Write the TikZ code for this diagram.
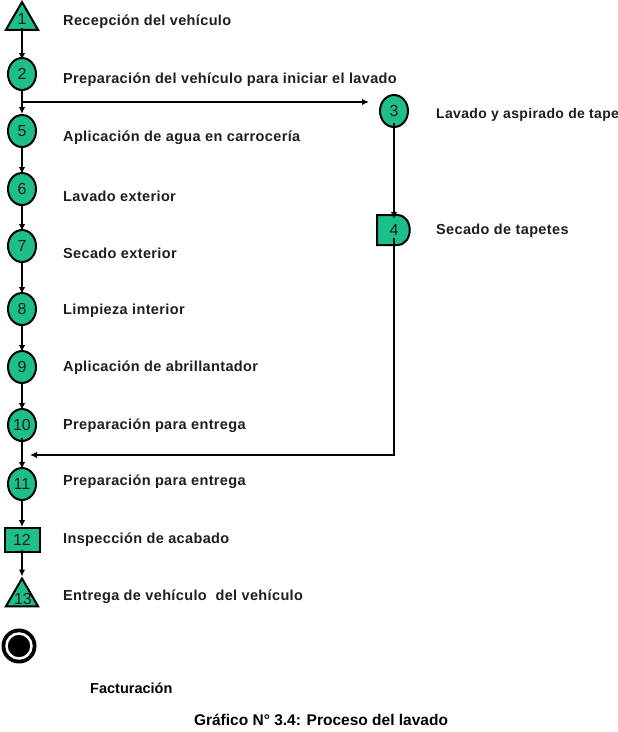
\documentclass[tikz,border=0pt]{standalone}
\usepackage{fontspec}
\setmainfont{Liberation Sans}
\newfontfamily\lblfont{Liberation Sans}[LetterSpace=2.5]
\usetikzlibrary{shapes.geometric,arrows.meta}
\definecolor{procgreen}{RGB}{28,190,140}
\definecolor{txtgray}{RGB}{30,30,30}
\tikzset{
  shp/.style={draw=black, line width=2pt, fill=procgreen, inner sep=0pt,
    font=\fontsize{16}{16}\selectfont, text=txtgray},
  proc/.style={shp, ellipse, minimum width=28pt, minimum height=32pt},
  tri/.style={shp, regular polygon, regular polygon sides=3, minimum size=37pt},
  insp/.style={shp, rectangle, minimum width=35pt, minimum height=24pt},
  numtxt/.style={inner sep=0pt, text=txtgray, font=\fontsize{16}{16}\selectfont},
  lbl/.style={anchor=west, inner sep=0pt, text=txtgray,
    font=\lblfont\bfseries\fontsize{14.5}{15}\selectfont},
  flow/.style={line width=2pt, -{Latex[length=7pt,width=6.5pt]}},
  plain/.style={line width=2pt},
}
\begin{document}
\begin{tikzpicture}[x=1pt,y=-1pt]
\useasboundingbox (0,0) rectangle (618,732);
% left column
\node[tri] (n1) at (22,20.5) {};
\node[numtxt] (n1t) at (22,19) {1};
\node[proc] (n2) at (22,74) {2};
\node[proc] (n5) at (22,131) {5};
\node[proc] (n6) at (22,189) {6};
\node[proc] (n7) at (22,246) {7};
\node[proc] (n8) at (22,309) {8};
\node[proc] (n9) at (22,367) {9};
\node[proc] (n10) at (22,425) {10};
\node[proc] (n11) at (22,484) {11};
\node[insp] (n12) at (22,540) {12};
\node[tri] (n13) at (22,597) {};
\node[numtxt] (n13t) at (23,599) {13};
\node[circle, fill=black, minimum size=35pt, inner sep=0pt] (fin) at (19,646) {};
\node[circle, fill=black, draw=white, line width=2.5pt, minimum size=25pt, inner sep=0pt] (fini) at (fin.center) {};
% right column
\node[proc] (n3) at (394,111) {3};
\draw[shp] (377,215) -- (397,215) .. controls (414,215) and (414,245) .. (397,245) -- (377,245) -- cycle;
\node[numtxt, minimum width=36pt, minimum height=30pt] (n4) at (394,230) {4};
% connectors
\draw[flow] ([yshift=3pt]n1.south) -- ([yshift=-3pt]n2.north);
\draw[flow] (n2.south) -- (n5.north);
\coordinate (br) at (22,102);
\coordinate (n3w) at (n3.west |- br);
\draw[flow] (br) -- ([xshift=-10pt]n3w);
\draw[flow] ([yshift=2pt]n5.south) -- ([yshift=-2pt]n6.north);
\draw[flow] ([yshift=2pt]n6.south) -- ([yshift=-2pt]n7.north);
\draw[flow] ([yshift=2pt]n7.south) -- ([yshift=-2pt]n8.north);
\draw[flow] ([yshift=2pt]n8.south) -- ([yshift=-2pt]n9.north);
\draw[flow] ([yshift=2pt]n9.south) -- ([yshift=-2pt]n10.north);
\draw[flow] ([yshift=4pt]n10.south) -- ([yshift=-2pt]n11.north);
\draw[flow] ([yshift=2pt]n11.south) -- (n12.north);
\draw[flow] ([yshift=3pt]n12.south) -- (n13.north);
\draw[flow] ([yshift=5pt]n3.south) -- ([yshift=-4pt]n4.north);
\coordinate (rc) at (n4.south |- 0,455);
\coordinate (ret) at (30,455);
\draw[plain] ([yshift=7pt]n4.south) -- (rc);
\draw[flow] ([xshift=1pt]rc) -- (ret);
% labels
\node[lbl] (l1) at (63,22) {Recepción del vehículo};
\node[lbl] (l2) at (63,80) {Preparación del vehículo para iniciar el lavado};
\node[lbl] (l5) at (63,138) {Aplicación de agua en carrocería};
\node[lbl] (l6) at (63,196) {Lavado exterior};
\node[lbl] (l7) at (63,253) {Secado exterior};
\node[lbl] (l8) at (63,311) {Limpieza interior};
\node[lbl] (l9) at (63,368) {Aplicación de abrillantador};
\node[lbl] (l10) at (63,426) {Preparación para entrega};
\node[lbl] (l11) at (63,482) {Preparación para entrega};
\node[lbl] (l12) at (63,540) {Inspección de acabado};
\node[lbl] (l13) at (63,597) {Entrega de vehículo\ \ del vehículo};
\node[lbl, font=\lblfont\bfseries\fontsize{14}{15}\selectfont] (l3) at (436,115) {Lavado y aspirado de tapetes};
\node[lbl] (l4) at (436,231) {Secado de tapetes};
\node[anchor=west, inner sep=0pt, font=\bfseries\fontsize{14.5}{15}\selectfont] (fact) at (90,688) {Facturación};
\node[inner sep=0pt, font=\bfseries\fontsize{15.5}{16}\selectfont] (cap) at (321,720) {Gráfico N° 3.4: Proceso del lavado};
\end{tikzpicture}
\end{document}
